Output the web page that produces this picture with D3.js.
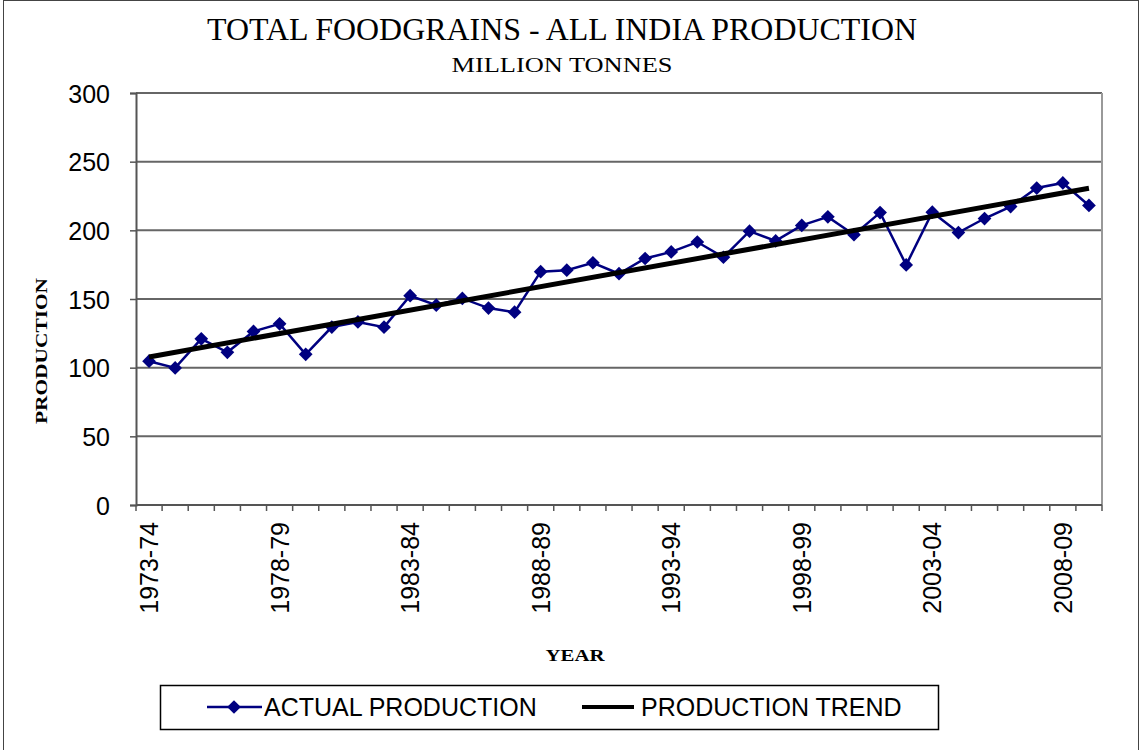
<!DOCTYPE html>
<html>
<head>
<meta charset="utf-8">
<script src="https://cdnjs.cloudflare.com/ajax/libs/d3/7.8.5/d3.min.js"></script>
<style>
  body { margin: 0; background: #fff; }
  svg text { fill: #000; }
</style>
</head>
<body>
<svg id="chart" width="1143" height="750"></svg>
<script>
// data
const years = ["1973-74","1974-75","1975-76","1976-77","1977-78","1978-79","1979-80","1980-81",
  "1981-82","1982-83","1983-84","1984-85","1985-86","1986-87","1987-88","1988-89","1989-90",
  "1990-91","1991-92","1992-93","1993-94","1994-95","1995-96","1996-97","1997-98","1998-99",
  "1999-00","2000-01","2001-02","2002-03","2003-04","2004-05","2005-06","2006-07","2007-08",
  "2008-09","2009-10"]
const production = [104.7, 99.8, 121.0, 111.2, 126.4, 131.9, 109.7, 129.6, 133.3, 129.5, 152.4,
  145.5, 150.4, 143.4, 140.4, 169.9, 171.0, 176.4, 168.4, 179.5, 184.3, 191.5, 180.4, 199.4,
  192.3, 203.6, 209.8, 196.8, 212.9, 174.8, 213.2, 198.4, 208.6, 217.3, 230.8, 234.5, 218.1]
// trend line ends, as drawn
const trendYears = ["1973-74", "2009-10"]
const trendValues = [107.8, 230.6]
const yTicks = [0, 50, 100, 150, 200, 250, 300]
const labelYears = ["1973-74","1978-79","1983-84","1988-89","1993-94","1998-99","2003-04","2008-09"]

const svg = d3.select("#chart")
const L = 136, R = 1102, T = 93, B = 505

// outer frame
svg.append("rect").attr("x", 3.5).attr("y", 0.5).attr("width", 1135).attr("height", 760)
   .attr("fill", "none").attr("stroke", "#444").attr("stroke-width", 1)

const x = d3.scaleBand().domain(years).range([L, R])
const y = d3.scaleLinear().domain([0, 300]).range([B, T])
const cx = d => x(d) + x.bandwidth() / 2

// gridlines
svg.append("g").selectAll("line").data(yTicks.filter(d => d > 0)).enter().append("line")
   .attr("x1", L).attr("x2", R).attr("y1", d => y(d)).attr("y2", d => y(d))
   .attr("stroke", "#666").attr("stroke-width", 2)
// right edge of plot
svg.append("line").attr("x1", R).attr("x2", R).attr("y1", T).attr("y2", B)
   .attr("stroke", "#999").attr("stroke-width", 2)

// y axis
const yAxis = svg.append("g").attr("transform", `translate(${L},0)`)
   .call(d3.axisLeft(y).tickValues(yTicks).tickSize(6).tickPadding(20))
yAxis.select(".domain").attr("stroke", "#555").attr("stroke-width", 2)
yAxis.selectAll(".tick line").attr("stroke", "#555").attr("stroke-width", 1.5)
yAxis.selectAll("text").attr("font-family", "Liberation Sans, Arial, sans-serif")
   .attr("font-size", 25).attr("fill", "#000").attr("dy", "0.36em")

// x axis: ticks between categories
const bounds = years.map(d => x(d)).concat([R])
const xg = svg.append("g")
xg.append("line").attr("x1", L).attr("x2", R).attr("y1", B).attr("y2", B)
  .attr("stroke", "#555").attr("stroke-width", 2)
xg.selectAll("line.t").data(bounds).enter().append("line").attr("class", "t")
  .attr("x1", d => d).attr("x2", d => d).attr("y1", B).attr("y2", B + 6)
  .attr("stroke", "#555").attr("stroke-width", 1.5)
xg.selectAll("text").data(labelYears).enter().append("text")
  .attr("transform", d => `translate(${cx(d)},${B + 17}) rotate(-90)`)
  .attr("text-anchor", "end").attr("dy", "0.36em")
  .attr("font-family", "Liberation Sans, Arial, sans-serif").attr("font-size", 25)
  .text(d => d)

// actual production
const line = d3.line().x((d, i) => cx(years[i])).y(d => y(d))
svg.append("path").datum(production).attr("d", line)
   .attr("fill", "none").attr("stroke", "#000080").attr("stroke-width", 2.5)
const diamond = d3.symbol().type(d3.symbolDiamond2).size(120)
svg.append("g").selectAll("path").data(production).enter().append("path")
   .attr("d", diamond)
   .attr("transform", (d, i) => `translate(${cx(years[i])},${y(d)})`)
   .attr("fill", "#000080")

// trend
svg.append("line")
   .attr("x1", cx(trendYears[0])).attr("y1", y(trendValues[0]))
   .attr("x2", cx(trendYears[1])).attr("y2", y(trendValues[1]))
   .attr("stroke", "#000").attr("stroke-width", 5)

// titles
svg.append("text").attr("x", 562).attr("y", 40).attr("text-anchor", "middle")
   .attr("font-family", "Liberation Serif, Times New Roman, serif").attr("font-size", 32)
   .attr("textLength", 710).attr("lengthAdjust", "spacingAndGlyphs")
   .text("TOTAL FOODGRAINS - ALL INDIA PRODUCTION")
svg.append("text").attr("x", 562).attr("y", 72).attr("text-anchor", "middle")
   .attr("font-family", "Liberation Serif, Times New Roman, serif").attr("font-size", 22)
   .attr("textLength", 221).attr("lengthAdjust", "spacingAndGlyphs")
   .text("MILLION TONNES")
svg.append("text").attr("transform", "translate(47,351) rotate(-90)").attr("text-anchor", "middle")
   .attr("font-family", "Liberation Serif, Times New Roman, serif").attr("font-size", 17)
   .attr("font-weight", "bold").attr("textLength", 146).attr("lengthAdjust", "spacingAndGlyphs")
   .text("PRODUCTION")
svg.append("text").attr("x", 575).attr("y", 661).attr("text-anchor", "middle")
   .attr("font-family", "Liberation Serif, Times New Roman, serif").attr("font-size", 17)
   .attr("font-weight", "bold").attr("textLength", 59).attr("lengthAdjust", "spacingAndGlyphs")
   .text("YEAR")

// legend
const lg = svg.append("g")
lg.append("rect").attr("x", 160.5).attr("y", 685.5).attr("width", 778).attr("height", 44)
  .attr("fill", "#fff").attr("stroke", "#000").attr("stroke-width", 1.5)
lg.append("line").attr("x1", 207).attr("x2", 262).attr("y1", 707).attr("y2", 707)
  .attr("stroke", "#000080").attr("stroke-width", 2.5)
lg.append("path").attr("d", diamond).attr("transform", "translate(234,707)")
  .attr("fill", "#000080")
lg.append("text").attr("x", 264).attr("y", 716)
  .attr("font-family", "Liberation Sans, Arial, sans-serif").attr("font-size", 25)
  .text("ACTUAL PRODUCTION")
lg.append("line").attr("x1", 582).attr("x2", 634).attr("y1", 707).attr("y2", 707)
  .attr("stroke", "#000").attr("stroke-width", 4)
lg.append("text").attr("x", 641).attr("y", 716)
  .attr("font-family", "Liberation Sans, Arial, sans-serif").attr("font-size", 25)
  .text("PRODUCTION TREND")
</script>
</body>
</html>
